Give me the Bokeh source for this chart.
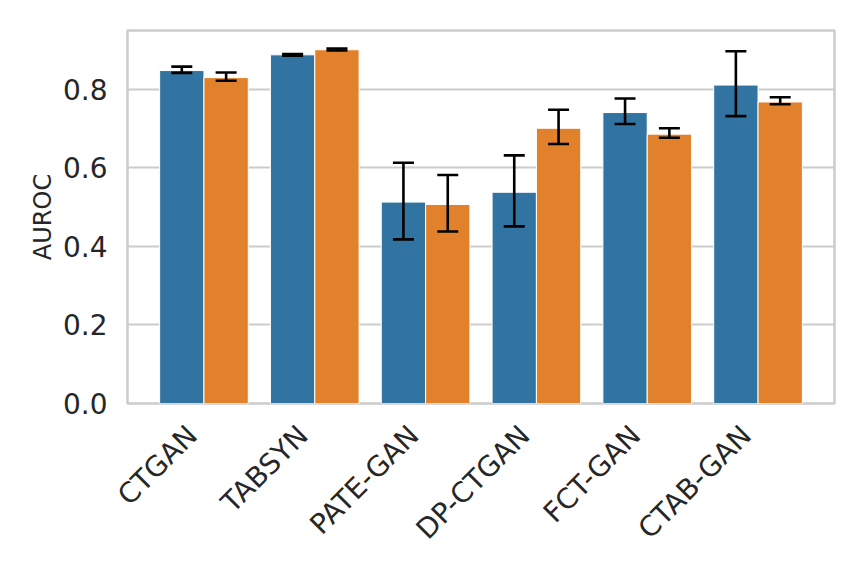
import math
from bokeh.plotting import figure
from bokeh.models import ColumnDataSource, Range1d, FixedTicker, NumeralTickFormatter
from bokeh.transform import dodge
from bokeh.embed import file_html
from bokeh.resources import INLINE

categories = ["CTGAN", "TABSYN", "PATE-GAN", "DP-CTGAN", "FCT-GAN", "CTAB-GAN"]
series_1 = [0.848, 0.888, 0.513, 0.538, 0.741, 0.811]
series_1_lo = [0.842, 0.886, 0.418, 0.451, 0.712, 0.732]
series_1_hi = [0.858, 0.890, 0.613, 0.632, 0.777, 0.897]
series_2 = [0.830, 0.901, 0.507, 0.701, 0.686, 0.768]
series_2_lo = [0.822, 0.899, 0.438, 0.661, 0.677, 0.762]
series_2_hi = [0.843, 0.904, 0.582, 0.748, 0.701, 0.780]
y_ticks = [0.0, 0.2, 0.4, 0.6, 0.8]

BLUE = "#3274a1"
ORANGE = "#e1812c"
TEXT = "#262626"
GRID = "#cccccc"
LABEL_SHIFT = 0.105  # rotated tick labels end at their category (right-aligned)

idx = list(range(len(categories)))
src = ColumnDataSource(dict(idx=idx, cat=categories, s1=series_1, s1lo=series_1_lo, s1hi=series_1_hi,
                            s2=series_2, s2lo=series_2_lo, s2hi=series_2_hi))

p = figure(width=848, height=560, output_backend="svg", toolbar_location=None,
           x_range=Range1d(-0.69, len(categories) - 1 + 0.69),
           y_range=Range1d(0, 0.95),
           min_border_left=127, min_border_right=14, min_border_top=30, min_border_bottom=157)

p.vbar(x=dodge("idx", -0.2), top="s1", width=0.4, source=src,
       fill_color=BLUE, line_color="white", line_width=1)
p.vbar(x=dodge("idx", 0.2), top="s2", width=0.4, source=src,
       fill_color=ORANGE, line_color="white", line_width=1)

for off, lo, hi in [(-0.2, "s1lo", "s1hi"), (0.2, "s2lo", "s2hi")]:
    xs = dodge("idx", off)
    p.segment(x0=xs, x1=xs, y0=lo, y1=hi, source=src, line_color="black", line_width=2.6)
    p.scatter(x=xs, y=lo, source=src, marker="dash", size=21, line_color="black", line_width=2.6)
    p.scatter(x=xs, y=hi, source=src, marker="dash", size=21, line_color="black", line_width=2.6)

p.xgrid.grid_line_color = None
p.ygrid.grid_line_color = GRID
p.ygrid.grid_line_width = 2
p.ygrid.ticker = FixedTicker(ticks=y_ticks)
p.outline_line_color = GRID
p.outline_line_width = 2.5

tick_pos = [i - LABEL_SHIFT for i in idx]
p.xaxis.ticker = FixedTicker(ticks=tick_pos)
p.xaxis.major_label_overrides = {t: c for t, c in zip(tick_pos, categories)}
p.xaxis.major_label_orientation = math.pi / 4
p.xaxis.major_label_standoff = 27

p.yaxis.ticker = FixedTicker(ticks=y_ticks)
p.yaxis.formatter = NumeralTickFormatter(format="0.0")
p.yaxis.axis_label = "AUROC"
p.yaxis.axis_label_text_font = "DejaVu Sans"
p.yaxis.axis_label_text_font_size = "24px"
p.yaxis.axis_label_text_font_style = "normal"
p.yaxis.axis_label_text_color = TEXT
p.yaxis.axis_label_standoff = 3
p.yaxis.major_label_standoff = 20

for ax in (p.xaxis, p.yaxis):
    ax.axis_line_color = None
    ax.major_tick_line_color = None
    ax.minor_tick_line_color = None
    ax.major_tick_out = 0
    ax.major_tick_in = 0
    ax.minor_tick_out = 0
    ax.major_label_text_font = "DejaVu Sans"
    ax.major_label_text_font_size = "28px"
    ax.major_label_text_color = TEXT

open("out.html", "w").write(file_html(p, INLINE))
